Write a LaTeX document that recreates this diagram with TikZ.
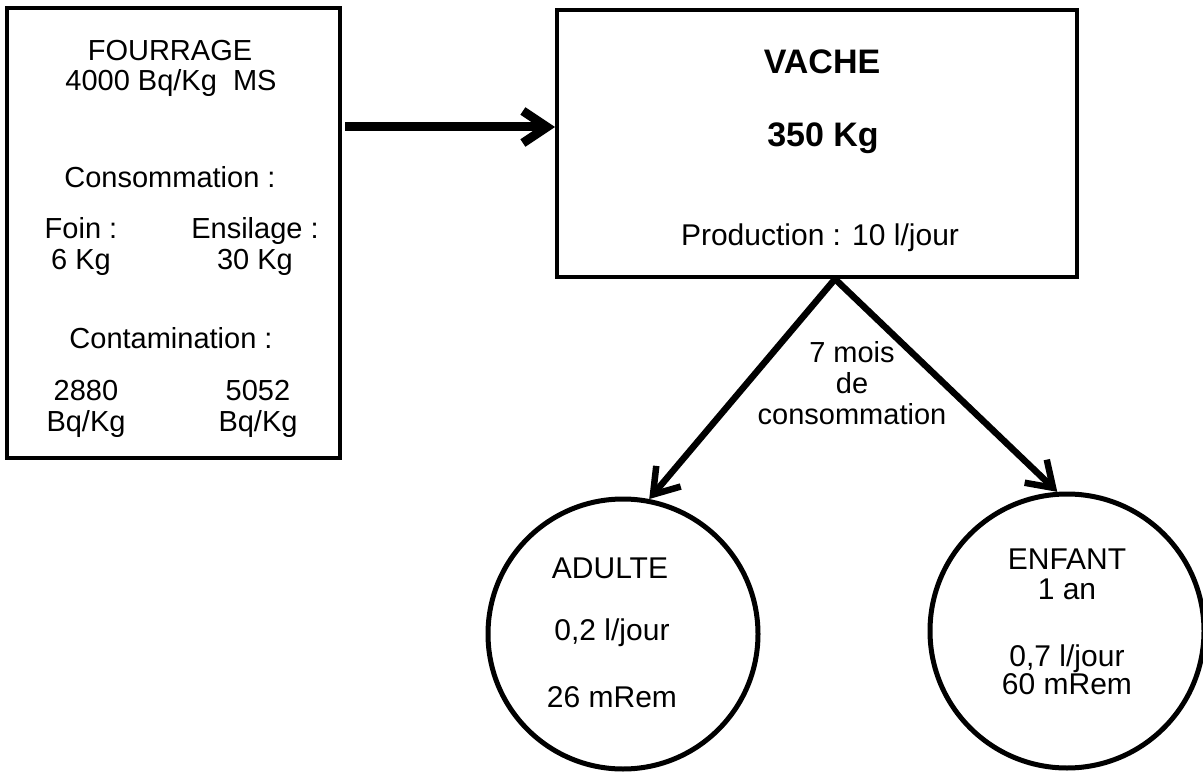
\documentclass[tikz,border=0pt]{standalone}
\usepackage{fontspec}
\setmainfont{Liberation Sans}
\usetikzlibrary{arrows.meta}

\begin{document}
\begin{tikzpicture}[x=1pt, y=-1pt,
  boite/.style={draw, rectangle, line width=4pt},
  rond/.style={draw, circle, line width=5pt},
  texte/.style={inner sep=0pt, align=center, font=\fontsize{29}{31}\selectfont},
  titre/.style={inner sep=0pt, font=\fontsize{34}{40}\selectfont\bfseries},
  fleche/.style={-{Straight Barb[length=24pt, width=32pt]}, line width=6.5pt}]
  \useasboundingbox (0,0) rectangle (1203,773);

  % 1. Boxes and circles
  \node (fourrage) [boite, minimum width=333pt, minimum height=450pt] at (173.5,233) {};
  \node (vache) [boite, minimum width=520pt, minimum height=267pt] at (817,143.5) {};
  \node (adulte) [rond, minimum size=270pt] at (623,634) {};
  \node (enfant) [rond, minimum size=274pt] at (1067,631) {};

  % 2. Fourrage texts
  \node (tFourrage) [texte] at (170,51) {FOURRAGE};
  \node (tTeneur) [texte] at (171,83) {4000 Bq/Kg\ \ MS};
  \node (tConso) [texte] at (170,177) {Consommation :};
  \node (tFoin) [texte] at (81,247) {Foin :\\6 Kg};
  \node (tEnsilage) [texte] at (255,247) {Ensilage :\\30 Kg};
  \node (tContam) [texte] at (171,338) {Contamination :};
  \node (tFoinBq) [texte] at (86,409) {2880\\Bq/Kg};
  \node (tEnsilageBq) [texte] at (258,409) {5052\\Bq/Kg};

  % 3. Vache texts
  \node (tVache) [titre] at (822,62) {VACHE};
  \node (tPoids) [titre] at (823,138) {350 Kg};
  \node (tProd) [texte, font=\fontsize{30}{34}\selectfont] at (820,238) {Production : 10 l/jour};

  % 4. Circle texts
  \node (tAdulte) [texte, font=\fontsize{30}{34}\selectfont] at (610,568) {ADULTE};
  \node (tAdulteLait) [texte, font=\fontsize{30}{34}\selectfont] at (612,633) {0,2 l/jour};
  \node (tAdulteDose) [texte, font=\fontsize{30}{34}\selectfont] at (612,697) {26 mRem};
  \node (tEnfant) [texte, font=\fontsize{30}{30}\selectfont] at (1067,574) {ENFANT\\1 an};
  \node (tEnfantLait) [texte, font=\fontsize{30}{28}\selectfont] at (1067,670) {0,7 l/jour\\60 mRem};

  % 5. Arrows
  \coordinate (depart) at (345,127);
  \coordinate (arrivee) at (vache.west |- depart);
  \coordinate (sommet) at ([xshift=18pt]vache.south);
  \draw[fleche, line width=9pt] (depart) -- (arrivee);
  \draw[fleche] (sommet) -- (adulte.79);
  \draw[fleche] (sommet) -- (enfant.94);
  \node (duree) [texte] at (852,383) {7 mois\\de\\consommation};
\end{tikzpicture}
\end{document}
